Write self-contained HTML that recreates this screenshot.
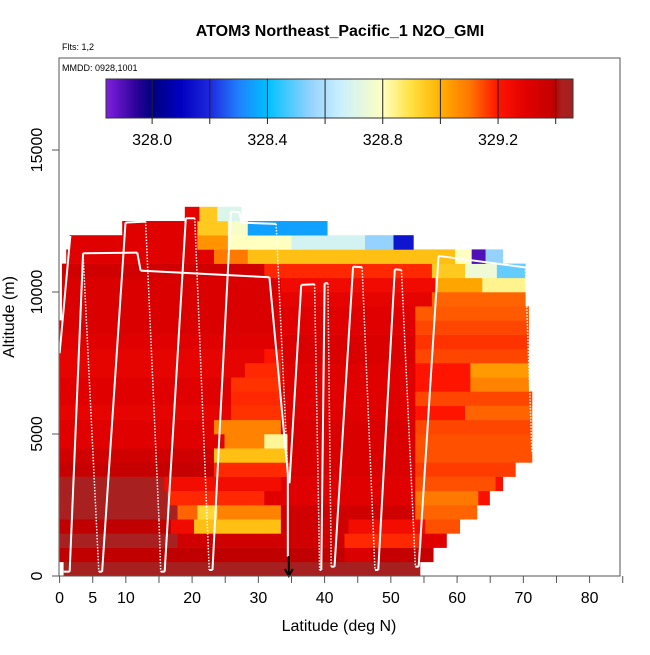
<!DOCTYPE html>
<html><head><meta charset="utf-8"><style>
html,body{margin:0;padding:0;background:#fff}
svg text{font-family:"Liberation Sans",sans-serif}
</style></head><body>
<svg id="chart" width="650" height="650" viewBox="0 0 650 650" xmlns="http://www.w3.org/2000/svg">
<defs>
<linearGradient id="cbgrad" x1="0" x2="1" y1="0" y2="0"></linearGradient>
</defs>
<text x="340" y="36" text-anchor="middle" font-size="16" font-weight="bold">ATOM3 Northeast_Pacific_1 N2O_GMI</text>
<text x="62" y="50" font-size="9">Flts: 1,2</text>
<g id="heat"></g>
<g id="track"></g>
<g id="axes"></g>
<rect x="59" y="58" width="561" height="518" fill="none" stroke="#555" stroke-width="1"/>
<text x="62" y="71" font-size="9">MMDD: 0928,1001</text>
<g id="cbar"></g>
<text x="339" y="631" text-anchor="middle" font-size="16">Latitude (deg N)</text>
<text transform="translate(14,317) rotate(-90)" text-anchor="middle" font-size="16">Altitude (m)</text>
</svg>
<script>
const altBins=[0,500,1000,1500,2000,2500,3000,3500,4000,4500,5000,5500,6000,6500,7000,7500,8000,8500,9000,9500,10000,10500,11000,11500,12000,12500];
const rowSegs=[
[[0.6,25.9,329.44],[25.9,54.4,329.47]],
[[0,43,329.4],[43,47,329.32],[47,56.4,329.38]],
[[0,17.8,329.42],[17.8,43,329.35],[43,54.7,329.18],[54.7,58.4,329.3]],
[[0,16.8,329.4],[16.8,20.3,329.25],[20.3,33.4,328.97],[33.4,43.6,329.35],[43.6,55.2,329.24],[55.2,60.4,329.14]],
[[0,17.8,329.42],[17.8,20.8,329.12],[20.8,23.8,328.92],[23.8,33.4,329.08],[33.4,53.7,329.35],[53.7,63,329.12]],
[[0,16.3,329.42],[16.3,30.9,329.18],[30.9,53.7,329.3],[53.7,63.2,329.1],[63.2,64.9,329.22]],
[[0,15.8,329.42],[15.8,33.4,329.24],[33.4,53.7,329.3],[53.7,65.8,329.14],[65.8,66.9,329.22]],
[[0,23.3,329.38],[23.3,34.9,329.18],[34.9,53.7,329.32],[53.7,68.8,329.16]],
[[0,23.3,329.35],[23.3,34.4,328.97],[34.4,53.7,329.32],[53.7,71.3,329.14]],
[[0,24.9,329.3],[24.9,30.9,329.08],[30.9,34.4,328.83],[34.4,53.7,329.32],[53.7,71.3,329.14]],
[[0,23.3,329.3],[23.3,33.4,329.08],[33.4,53.7,329.32],[53.7,71.3,329.15]],
[[0,25.9,329.28],[25.9,33.4,329.17],[33.4,53.7,329.3],[53.7,61.2,329.2],[61.2,71.3,329.12]],
[[0,25.9,329.3],[25.9,33.4,329.18],[33.4,53.7,329.3],[53.7,71.3,329.15]],
[[0,25.9,329.3],[25.9,33.4,329.17],[33.4,53.7,329.3],[53.7,62,329.2],[62,70.8,329.08]],
[[0,28,329.28],[28,33.4,329.18],[33.4,53.7,329.3],[53.7,62,329.2],[62,70.8,329.04]],
[[0,30.9,329.28],[30.9,33.4,329.2],[33.4,53.7,329.32],[53.7,70.8,329.15]],
[[0,33.4,329.3],[33.4,53.7,329.32],[53.7,70.8,329.17]],
[[0,33.4,329.32],[33.4,53.7,329.3],[53.7,70.8,329.15]],
[[0.36,33.4,329.32],[33.4,53.7,329.3],[53.7,70.8,329.13]],
[[0.36,33.4,329.32],[33.4,56.2,329.28],[56.2,70.3,329.12]],
[[0.36,33.4,329.32],[33.4,56.7,329.25],[56.7,63.8,329.02],[63.8,70.3,328.84]],
[[0.36,30.9,329.35],[30.9,56.2,329.18],[56.2,61.2,328.95],[61.2,66,328.75],[66,70.3,328.5]],
[[1.0,23.3,329.3],[23.3,28.4,329.1],[28.4,59.7,328.97],[59.7,62.2,328.8],[62.2,64.3,327.9],[64.3,66.9,328.55]],
[[1.5,20.8,329.3],[20.8,25.4,329.05],[25.4,35,328.8],[35,46.1,328.68],[46.1,50.4,328.55],[50.4,53.4,328.15]],
[[9.45,20.8,329.3],[20.8,25.4,328.95],[25.4,28.4,328.78],[28.4,40.4,328.35]],
[[18.9,21.1,329.28],[21.1,23.8,328.95],[23.8,27.4,328.7]]
];
const binSize=500;
// flight track: pen 0=move,1=solid,2=dotted
const trackLat=[0,1.62, 0.61,1.52,3.54,11.72,12.23,31.67,34.45,34.45, 3.54,5.92,6.42,9.95,12.98,15.0,15.26,15.86,19.05,20.4,22.58,23.08,25.86,27.13,27.48,32.68,34.45, 34.7,36.47,38.49,39.25,39.5,40.0,40.5,41.0,41.5,44.3,45.66,47.6,48.1,50.6,51.6,53.7,54.2,57.2,70.1,70.3,71.3];
const trackAlt=[7842,11975, 153,153,11364,11388,10754,10519,3600,681, 11364,153,153,12444,12480,1972,153,153,12597,12597,211,211,12832,12809,12444,12397,3616, 3264,10249,10272,211,211,10308,10308,329,329,10895,10871,211,211,10801,10777,329,329,11270,10871,10871,4320];
const trackPen=[0,1, 0,1,1,1,1,1,1,1, 0,2,1,1,1,2,2,1,1,1,2,1,1,1,1,1,2, 0,1,1,2,1,1,1,2,1,1,1,2,1,1,1,2,1,1,1,1,2];
const xTicks=[0,5,10,15,20,25,30,35,40,45,50,55,60,65,70,75,80,85];
const xLabels=[0,5,10,20,30,40,50,60,70,80];
const yTicks=[0,5000,10000,15000];
const cbTicks=[328.0,328.2,328.4,328.6,328.8,329.0,329.2,329.4];
const cbLabels=[328.0,328.4,328.8,329.2];
const colorStops=[[327.84,[128,32,224]],[327.95,[40,0,150]],[328.0,[0,0,128]],[328.1,[0,0,192]],[328.2,[30,40,220]],[328.3,[32,128,255]],[328.4,[0,192,255]],[328.55,[150,210,255]],[328.65,[200,240,255]],[328.8,[255,255,192]],[328.9,[255,225,64]],[329.0,[255,176,0]],[329.1,[255,120,0]],[329.2,[255,20,0]],[329.3,[224,0,0]],[329.4,[192,0,0]],[329.41,[168,32,32]],[329.5,[165,32,32]]];

const NS="http://www.w3.org/2000/svg";
const X=lat=>59.6+lat*6.625;
const Y=alt=>576-alt*0.0284;
function color(v){
  if(v<=colorStops[0][0])return rgb(colorStops[0][1]);
  for(let i=1;i<colorStops.length;i++){
    if(v<=colorStops[i][0]){const a=colorStops[i-1],b=colorStops[i];const t=(v-a[0])/(b[0]-a[0]);
      return rgb(a[1].map((c,k)=>Math.round(c+(b[1][k]-c)*t)));}
  }
  return rgb(colorStops[colorStops.length-1][1]);
}
function rgb(c){return `rgb(${c[0]},${c[1]},${c[2]})`;}
function mk(tag,attrs,parent){const e=document.createElementNS(NS,tag);for(const k in attrs)e.setAttribute(k,attrs[k]);parent.appendChild(e);return e;}

const heat=document.getElementById('heat');
rowSegs.forEach((segs,ri)=>{
  const a0=altBins[ri],a1=a0+binSize;
  segs.forEach(s=>{
    const r=mk('rect',{x:X(s[0]),y:Y(a1),width:X(s[1])-X(s[0])+0.3,height:Y(a0)-Y(a1)+0.3,fill:color(s[2])},heat);
    
    
  });
});

const track=document.getElementById('track');
for(let i=1;i<trackLat.length;i++){
  if(trackPen[i]===0)continue;
  const l=mk('line',{x1:X(trackLat[i-1]),y1:Y(trackAlt[i-1]),x2:X(trackLat[i]),y2:Y(trackAlt[i]),stroke:'#fff','stroke-width':trackPen[i]===1?2:1.5,'stroke-dasharray':trackPen[i]===2?'1.5 1.5':'none'},track);
  
  
}
const arr=mk('path',{d:`M${X(34.6)} ${Y(700)} L${X(34.6)} ${Y(0)} M${X(34.6)-4} ${Y(0)-7} L${X(34.6)} ${Y(0)} L${X(34.6)+4} ${Y(0)-7}`,stroke:'#000','stroke-width':2,fill:'none'},track);



const axes=document.getElementById('axes');
xTicks.forEach(t=>{
  const l=mk('line',{x1:X(t),x2:X(t),y1:576,y2:583,stroke:'#555'},axes);
  
  
});
xLabels.forEach(t=>{
  const tx=mk('text',{x:X(t),y:603,'text-anchor':'middle','font-size':16},axes);
  tx.textContent=t;
  
  
});
yTicks.forEach(t=>{
  const l=mk('line',{x1:52,x2:59,y1:Y(t),y2:Y(t),stroke:'#555'},axes);
  
  
  const tx=mk('text',{transform:`translate(42,${Y(t)}) rotate(-90)`,'text-anchor':'middle','font-size':16},axes);
  tx.textContent=t;
  
  
});

const cb=document.getElementById('cbar');
const cbMin=327.84,cbMax=329.46,cbX0=106,cbX1=573;
const CX=v=>cbX0+(v-cbMin)/(cbMax-cbMin)*(cbX1-cbX0);
const grad=document.getElementById('cbgrad');
for(let v=cbMin;v<=cbMax+1e-9;v+=0.02){
  mk('stop',{offset:((v-cbMin)/(cbMax-cbMin)).toFixed(4),'stop-color':color(v)},grad);
}
const cr=mk('rect',{x:cbX0,y:79,width:cbX1-cbX0,height:39,fill:'url(#cbgrad)',stroke:'#333','stroke-width':1},cb);


cbTicks.forEach(t=>{
  const l=mk('line',{x1:CX(t),x2:CX(t),y1:79,y2:124,stroke:'#222','stroke-width':1},cb);
  
  
});
cbLabels.forEach(t=>{
  const tx=mk('text',{x:CX(t),y:145,'text-anchor':'middle','font-size':16},cb);
  tx.textContent=t.toFixed(1);
  
  
});
</script>
</body></html>
